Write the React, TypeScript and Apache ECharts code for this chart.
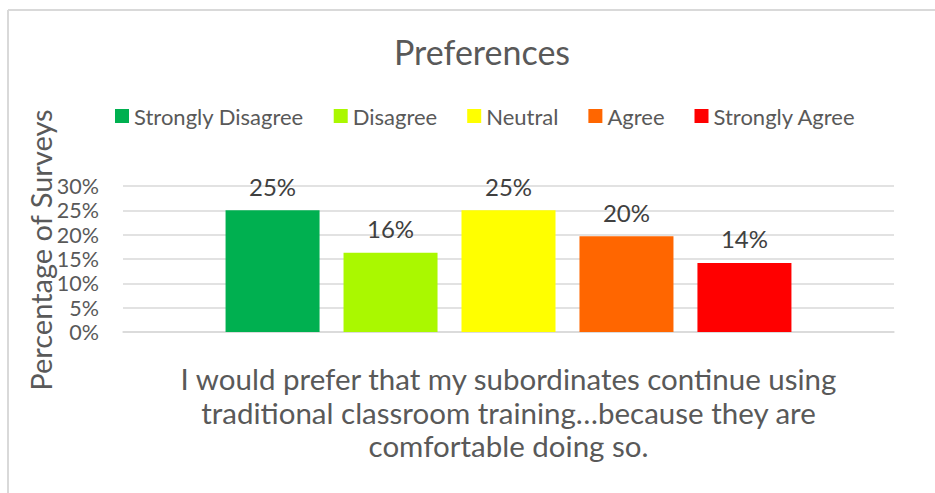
import React, { useEffect, useRef } from "react";
import * as echarts from "echarts";

const categories = [
  "I would prefer that my subordinates continue using\ntraditional classroom training…because they are\ncomfortable doing so.",
];
const seriesNames = ["Strongly Disagree", "Disagree", "Neutral", "Agree", "Strongly Agree"];
const seriesValues = [25, 16.3, 25, 19.7, 14.2];
const seriesColors = ["#00b050", "#aaf800", "#ffff00", "#ff6600", "#ff0000"];
const yTicks = [0, 5, 10, 15, 20, 25, 30];

const FONT = "Lato";
const TEXT = "#595959";

export default function App() {
  const ref = useRef<HTMLDivElement>(null);
  useEffect(() => {
    if (!ref.current) return;
    const chart = echarts.init(ref.current, null, { renderer: "svg" });
    chart.setOption({
      animation: false,
      backgroundColor: "#ffffff",
      textStyle: { fontFamily: FONT },
      title: {
        text: "Preferences",
        left: 389,
        top: 29,
        textStyle: { fontFamily: FONT, fontSize: 34, fontWeight: "normal", color: TEXT },
      },
      legend: {
        left: 110,
        top: 100,
        itemWidth: 14,
        itemHeight: 14,
        itemGap: 30,
        icon: "rect",
        data: seriesNames,
        textStyle: { fontFamily: FONT, fontSize: 22, color: TEXT },
      },
      graphic: [
        {
          type: "line",
          shape: { x1: 8, y1: 10, x2: 935, y2: 10 },
          style: { stroke: "#d9d9d9", lineWidth: 2 },
          silent: true,
        },
        {
          type: "line",
          shape: { x1: 8, y1: 10, x2: 8, y2: 493 },
          style: { stroke: "#d9d9d9", lineWidth: 2 },
          silent: true,
        },
        {
          type: "text",
          x: 40,
          y: 250,
          rotation: Math.PI / 2,
          style: {
            text: "Percentage of Surveys",
            fontFamily: FONT,
            fontSize: 29,
            fill: TEXT,
            align: "center",
            verticalAlign: "middle",
          },
        },
      ],
      grid: { left: 123, right: 41, top: 186, bottom: 161, containLabel: false },
      xAxis: {
        type: "category",
        data: categories,
        axisTick: { show: false },
        axisLine: { lineStyle: { color: "#d9d9d9", width: 1.5 } },
        axisLabel: {
          margin: 30,
          fontFamily: FONT,
          fontSize: 29.5,
          lineHeight: 33.5,
          color: TEXT,
          align: "center",
        },
      },
      yAxis: {
        type: "value",
        min: yTicks[0],
        max: yTicks[yTicks.length - 1],
        interval: 5,
        axisLine: { show: false },
        axisTick: { show: false },
        splitLine: { lineStyle: { color: "#d9d9d9", width: 1.5 } },
        axisLabel: {
          margin: 24,
          fontFamily: FONT,
          fontSize: 21.5,
          color: TEXT,
          formatter: (v: number) => `${v}%`,
        },
      },
      series: seriesNames.map((name, i) => ({
        name,
        type: "bar",
        data: [seriesValues[i]],
        barWidth: 94,
        barGap: "25.5%",
        itemStyle: { color: seriesColors[i] },
        label: {
          show: true,
          position: "top",
          distance: 12,
          fontFamily: FONT,
          fontSize: 24,
          color: "#404040",
          formatter: (p: any) => `${Math.round(p.value)}%`,
        },
      })),
    });
    return () => chart.dispose();
  }, []);
  return (
    <div
      ref={ref}
      style={{ position: "fixed", left: 0, top: 0, width: 935, height: 493 }}
    />
  );
}
